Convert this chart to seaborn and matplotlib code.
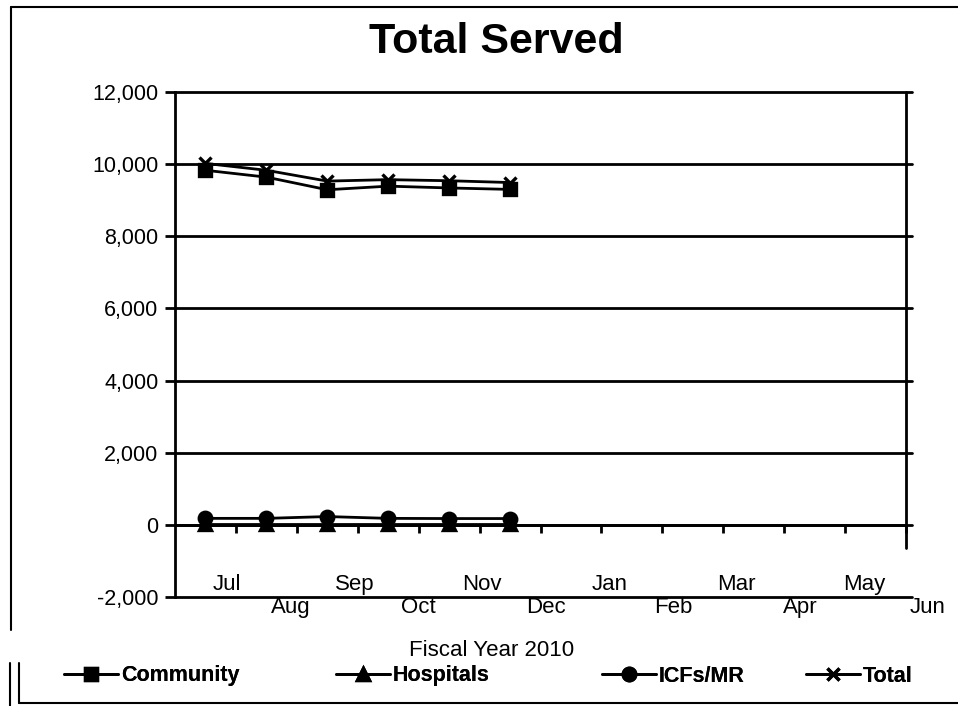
import numpy as np
import pandas as pd
import matplotlib
matplotlib.use("Agg")
import matplotlib.pyplot as plt
from matplotlib.lines import Line2D
import seaborn as sns

# Monthly counts, fiscal year 2010 (Jul through Dec reported so far)
months = ["Jul", "Aug", "Sep", "Oct", "Nov", "Dec",
          "Jan", "Feb", "Mar", "Apr", "May", "Jun"]
community = [9830, 9640, 9290, 9390, 9340, 9300]
hospitals = [10, 10, 10, 10, 10, 10]
icfs_mr = [180, 180, 230, 180, 175, 175]
total = [10020, 9830, 9530, 9570, 9540, 9490]
y_ticks = [-2000, 0, 2000, 4000, 6000, 8000, 10000, 12000]

series_names = ["Community", "Hospitals", "ICFs/MR", "Total"]
series_values = [community, hospitals, icfs_mr, total]
markers = {"Community": "s", "Hospitals": "^", "ICFs/MR": "o", "Total": "x"}

rows = []
for name, vals in zip(series_names, series_values):
    for i, v in enumerate(vals):
        rows.append({"month": i, "served": v, "series": name})
df = pd.DataFrame(rows)

sns.set_style("white")
plt.rcParams["font.family"] = ["Liberation Sans", "DejaVu Sans"]
plt.rcParams["text.color"] = "black"
plt.rcParams["xtick.color"] = "black"
plt.rcParams["ytick.color"] = "black"
plt.rcParams["axes.labelcolor"] = "black"

W, H = 958, 706
fig = plt.figure(figsize=(W / 100, H / 100), dpi=100)
ax = fig.add_axes([175 / W, 1 - 597 / H, 731 / W, 505 / H])

for name in series_names:
    sub = df[df["series"] == name]
    sns.lineplot(data=sub, x="month", y="served", color="black",
                 marker=markers[name], linewidth=2, markersize=9,
                 markeredgewidth=2.4, markeredgecolor="black",
                 markerfacecolor="black", ax=ax, legend=False, zorder=3)

ax.set_xlim(-0.5, 11.5)
ax.set_ylim(-2000, 12000)

# heavy horizontal gridlines at every major tick
for v in y_ticks:
    ax.axhline(v, xmin=0, xmax=1.008, color="black", lw=2, clip_on=False, zorder=1)
# right-hand vertical rule
ax.axvline(11.5, ymin=(597 - 548) / 505, ymax=1.0, color="black", lw=2, clip_on=False)

for s in ["top", "right"]:
    ax.spines[s].set_visible(False)
ax.spines["left"].set_linewidth(2)
ax.spines["left"].set_color("black")
ax.spines["bottom"].set_position(("data", 0))
ax.spines["bottom"].set_linewidth(2)
ax.spines["bottom"].set_color("black")

ax.set_yticks(y_ticks)
ax.set_yticklabels([f"{v:,}" for v in y_ticks], fontsize=15.5)
ax.tick_params(axis="y", direction="out", length=7, width=2, color="black", pad=5, left=True)

ax.set_xticks(np.arange(12) + 0.5)
ax.set_xticklabels([])
ax.tick_params(axis="x", direction="out", length=6, width=2, color="black", bottom=True)
ax.set_xlabel("")
ax.set_ylabel("")

# staggered month labels below the plotting area
for i, m in enumerate(months):
    xpos = i + 0.36 + 0.045 * i
    ypos = -1650 if i % 2 == 0 else -2300
    ax.text(xpos, ypos, m, ha="center", va="center", fontsize=16, clip_on=False)

fig.text(492 / W, 1 - 650 / H, "Fiscal Year 2010", ha="center", va="center", fontsize=16)
fig.text(496 / W, 1 - 42 / H, "Total Served", ha="center", va="center",
         fontsize=31, fontweight="bold")

# legend entries laid out across the bottom strip
legend_x = [64, 336, 602, 806]
for name, lx in zip(series_names, legend_x):
    h = Line2D([], [], color="black", lw=2, marker=markers[name], markersize=9,
               markeredgewidth=2.4, markeredgecolor="black", markerfacecolor="black")
    leg = fig.legend([h], [name], loc="center left",
                     bbox_to_anchor=(lx / W, 1 - 676 / H), frameon=False,
                     handlelength=2.5, handletextpad=0.15, borderpad=0, borderaxespad=0,
                     prop={"weight": "bold", "size": 15.5})
    fig.add_artist(leg)

# outer frame pieces
def seg(x0, y0, x1, y1, lw=1.5):
    fig.add_artist(Line2D([x0 / W, x1 / W], [1 - y0 / H, 1 - y1 / H],
                          color="black", lw=lw, transform=fig.transFigure))

seg(11, 7, 958, 7)
seg(11, 7, 11, 630)
seg(10, 663, 10, 706)
seg(19, 663, 19, 703)
seg(19, 703, 958, 703)

fig.savefig("out.png", dpi=100)
